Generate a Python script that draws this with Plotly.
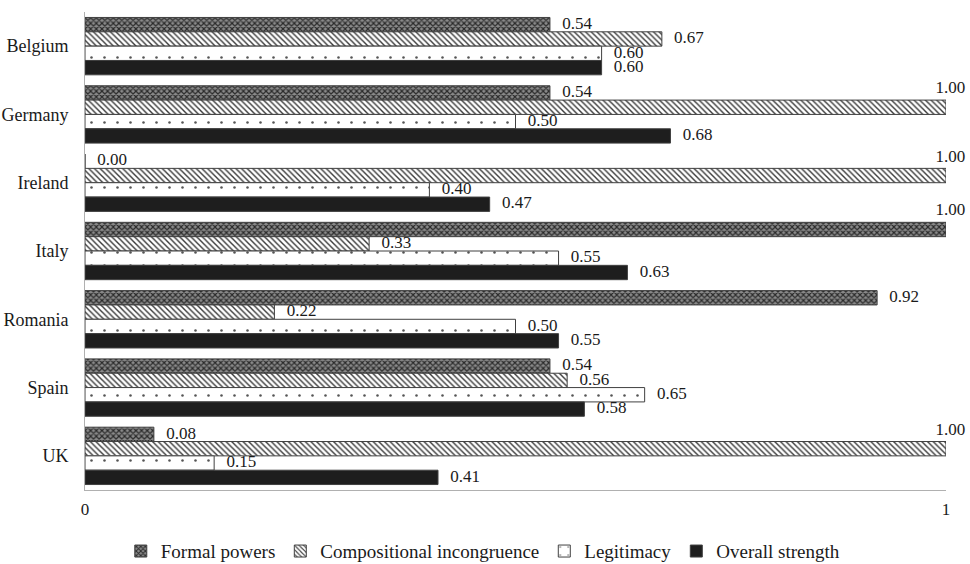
import plotly.graph_objects as go

countries = ["Belgium", "Germany", "Ireland", "Italy", "Romania", "Spain", "UK"]
formal_powers = [0.54, 0.54, 0.00, 1.00, 0.92, 0.54, 0.08]
compositional = [0.67, 1.00, 1.00, 0.33, 0.22, 0.56, 1.00]
legitimacy = [0.60, 0.50, 0.40, 0.55, 0.50, 0.65, 0.15]
overall = [0.60, 0.68, 0.47, 0.63, 0.55, 0.58, 0.41]

series = [
    ("Formal powers", formal_powers, dict(color="#ffffff", pattern=dict(shape="x", fgcolor="#2a2a2a", bgcolor="#8a8a8a", size=4, solidity=0.5, fillmode="replace"))),
    ("Compositional incongruence", compositional, dict(color="#ffffff", pattern=dict(shape="\\", fgcolor="#3a3a3a", bgcolor="#ffffff", size=4, solidity=0.35, fillmode="replace"))),
    ("Legitimacy", legitimacy, dict(color="#ffffff", pattern=dict(shape=".", fgcolor="#555555", bgcolor="#ffffff", size=13, solidity=0.03, fillmode="replace"))),
    ("Overall strength", overall, dict(color="#1e1e1e")),
]

font_family = "Liberation Serif"
fig = go.Figure()
for i, (name, vals, mk) in enumerate(series):
    mk = dict(mk)
    mk["line"] = dict(color="#404040", width=1)
    fig.add_trace(go.Bar(
        name=name, x=vals, y=countries, orientation="h",
        marker=mk, offsetgroup=str(i), alignmentgroup="a",
    ))
for i, (name, vals, mk) in enumerate(series):
    fig.add_trace(go.Scatter(
        x=vals, y=countries, orientation="h", mode="markers+text",
        marker=dict(size=[14 if v >= 1 else 18 for v in vals], color="rgba(0,0,0,0)",
                    line=dict(width=0)),
        text=[("\u00a0\u00a0" + f"{v:.2f}") if v >= 1 else f"{v:.2f}" for v in vals],
        textposition=["top center" if v >= 1 else "middle right" for v in vals],
        textfont=dict(family=font_family, size=17, color="#1a1a1a"),
        offsetgroup=str(i), alignmentgroup="a", showlegend=False,
        cliponaxis=False, hoverinfo="skip",
    ))

fig.update_layout(
    width=970, height=564,
    barmode="group", bargap=0.16, bargroupgap=0,
    scattermode="group", scattergap=0.16,
    plot_bgcolor="white", paper_bgcolor="white",
    margin=dict(l=85, r=24, t=12, b=74, autoexpand=False),
    font=dict(family=font_family, size=17, color="#1a1a1a"),
    legend=dict(orientation="h", x=0.462, xanchor="center", y=-0.128, yanchor="middle",
                font=dict(family=font_family, size=19), traceorder="normal",
                itemwidth=30),
    xaxis=dict(range=[0, 1], tickvals=[0, 1], ticktext=["0", "1"], showgrid=False,
               zeroline=False, showline=True, linecolor="#b0b0b0", linewidth=1,
               ticks="", ticklabelstandoff=4, tickfont=dict(size=17)),
    yaxis=dict(autorange="reversed", showgrid=False, zeroline=False, showline=True,
               linecolor="#b0b0b0", linewidth=1, ticks="", ticklabelstandoff=12,
               tickfont=dict(size=18)),
)
fig.write_html("out.html", config={"displayModeBar": False},
               post_script="document.body.style.margin='0';")
